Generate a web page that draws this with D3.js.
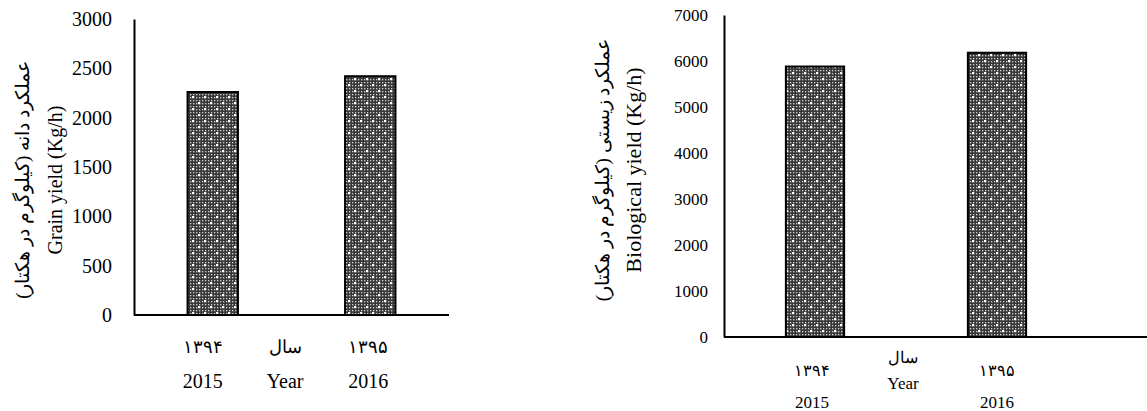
<!DOCTYPE html>
<html><head><meta charset="utf-8">
<script src="https://cdn.jsdelivr.net/npm/d3@7"></script>
<style>body{margin:0;background:#fff}svg{display:block}text{font-family:"Liberation Serif","Times New Roman",serif;fill:#000}</style>
</head><body>
<script>
const years = ["2015", "2016"];
const yearsFa = ["۱۳۹۴", "۱۳۹۵"];
const grainYield = [2260, 2420];
const bioYield = [5880, 6180];
const grainTicks = [0, 500, 1000, 1500, 2000, 2500, 3000];
const bioTicks = [0, 1000, 2000, 3000, 4000, 5000, 6000, 7000];

const svg = d3.select("body").append("svg").attr("width", 1147).attr("height", 411);
const defs = svg.append("defs");
const pat = defs.append("pattern").attr("id", "dots").attr("patternUnits", "userSpaceOnUse")
  .attr("width", 12).attr("height", 12);
pat.append("rect").attr("width", 12).attr("height", 12).attr("fill", "#383838");
for (let i = 0; i < 4; i++) for (let j = 0; j < 4; j++) {
  pat.append("rect").attr("x", i * 3 + 1).attr("y", j * 3 + 1).attr("width", 1.3).attr("height", 1.3).attr("fill", "#cfcfcf");
}
pat.append("rect").attr("x", 0).attr("y", 0).attr("width", 2.2).attr("height", 2.2).attr("fill", "#fff");
pat.append("rect").attr("x", 6).attr("y", 6).attr("width", 2.2).attr("height", 2.2).attr("fill", "#fff");

function chart(cfg) {
  const g = svg.append("g");
  const x = d3.scaleBand().domain(years).range([cfg.x0, cfg.x1]).paddingInner(0.68).paddingOuter(0.34);
  const y = d3.scaleLinear().domain([0, cfg.max]).range([cfg.yb, cfg.yt]);
  const ya = g.append("g").attr("transform", `translate(${cfg.x0},0)`)
    .call(d3.axisLeft(y).tickValues(cfg.ticks).tickFormat(d3.format("d")).tickSize(0).tickPadding(cfg.tickPad));
  ya.select(".domain").attr("stroke", "#000").attr("stroke-width", 2);
  ya.selectAll("text").style("font-size", cfg.fs + "px").style("font-family", '"Liberation Serif",serif');
  g.selectAll("rect.bar").data(cfg.values).join("rect").attr("class", "bar")
    .attr("x", (d, i) => x(years[i])).attr("width", x.bandwidth())
    .attr("y", d => y(d)).attr("height", d => cfg.yb - y(d))
    .attr("fill", "url(#dots)").attr("stroke", "#000").attr("stroke-width", 2);
  g.append("line").attr("x1", cfg.x0).attr("x2", cfg.xEnd).attr("y1", cfg.yb).attr("y2", cfg.yb)
    .attr("stroke", "#000").attr("stroke-width", 2);
  years.forEach((yr, i) => {
    const cx = x(yr) + x.bandwidth() / 2 + cfg.labDx[i];
    g.append("text").attr("x", cx).attr("y", cfg.faY).attr("text-anchor", "middle")
      .attr("dominant-baseline", "central").style("font-size", cfg.faNumFs + "px").style("font-weight", 300).text(yearsFa[i]);
    g.append("text").attr("x", cx).attr("y", cfg.enY).attr("text-anchor", "middle")
      .attr("dominant-baseline", "central").style("font-size", cfg.fs + "px").text(yr);
  });
  g.append("text").attr("x", cfg.midX).attr("y", cfg.midFaY).attr("text-anchor", "middle")
    .attr("dominant-baseline", "central").style("font-size", cfg.faNumFs + "px").text("سال");
  g.append("text").attr("x", cfg.midX).attr("y", cfg.midEnY).attr("text-anchor", "middle")
    .attr("dominant-baseline", "central").style("font-size", cfg.fs + "px").text("Year");
  g.append("text").attr("transform", `translate(${cfg.faTx},${cfg.tCy}) rotate(-90)`)
    .attr("text-anchor", "middle").attr("dominant-baseline", "central")
    .style("font-size", cfg.faFs + "px").text(cfg.faTitle);
  g.append("text").attr("transform", `translate(${cfg.enTx},${cfg.tCy}) rotate(-90)`)
    .attr("text-anchor", "middle").attr("dominant-baseline", "central")
    .style("font-size", cfg.enFs + "px").text(cfg.enTitle);
}

chart({
  x0: 134, x1: 449, xEnd: 449, yb: 315, yt: 19, max: 3000, ticks: grainTicks, values: grainYield,
  fs: 20, faNumFs: 18, tickPad: 22, faY: 347, enY: 381, midX: 285, midFaY: 347, midEnY: 381, labDx: [-10, -2],
  faTx: 22, enTx: 55, tCy: 180, faFs: 19, enFs: 20,
  faTitle: "عملکرد دانه (کیلوگرم در هکتار)", enTitle: "Grain yield (Kg/h)"
});
chart({
  x0: 724, x1: 1088, xEnd: 1147, yb: 337, yt: 15, max: 7000, ticks: bioTicks, values: bioYield,
  fs: 17, faNumFs: 16, tickPad: 16, faY: 370, enY: 402, midX: 903, midFaY: 357, midEnY: 383, labDx: [-3, 0],
  faTx: 602, enTx: 633, tCy: 170, faFs: 19, enFs: 22,
  faTitle: "عملکرد زیستی (کیلوگرم در هکتار)", enTitle: "Biological yield (Kg/h)"
});
</script>
</body></html>
